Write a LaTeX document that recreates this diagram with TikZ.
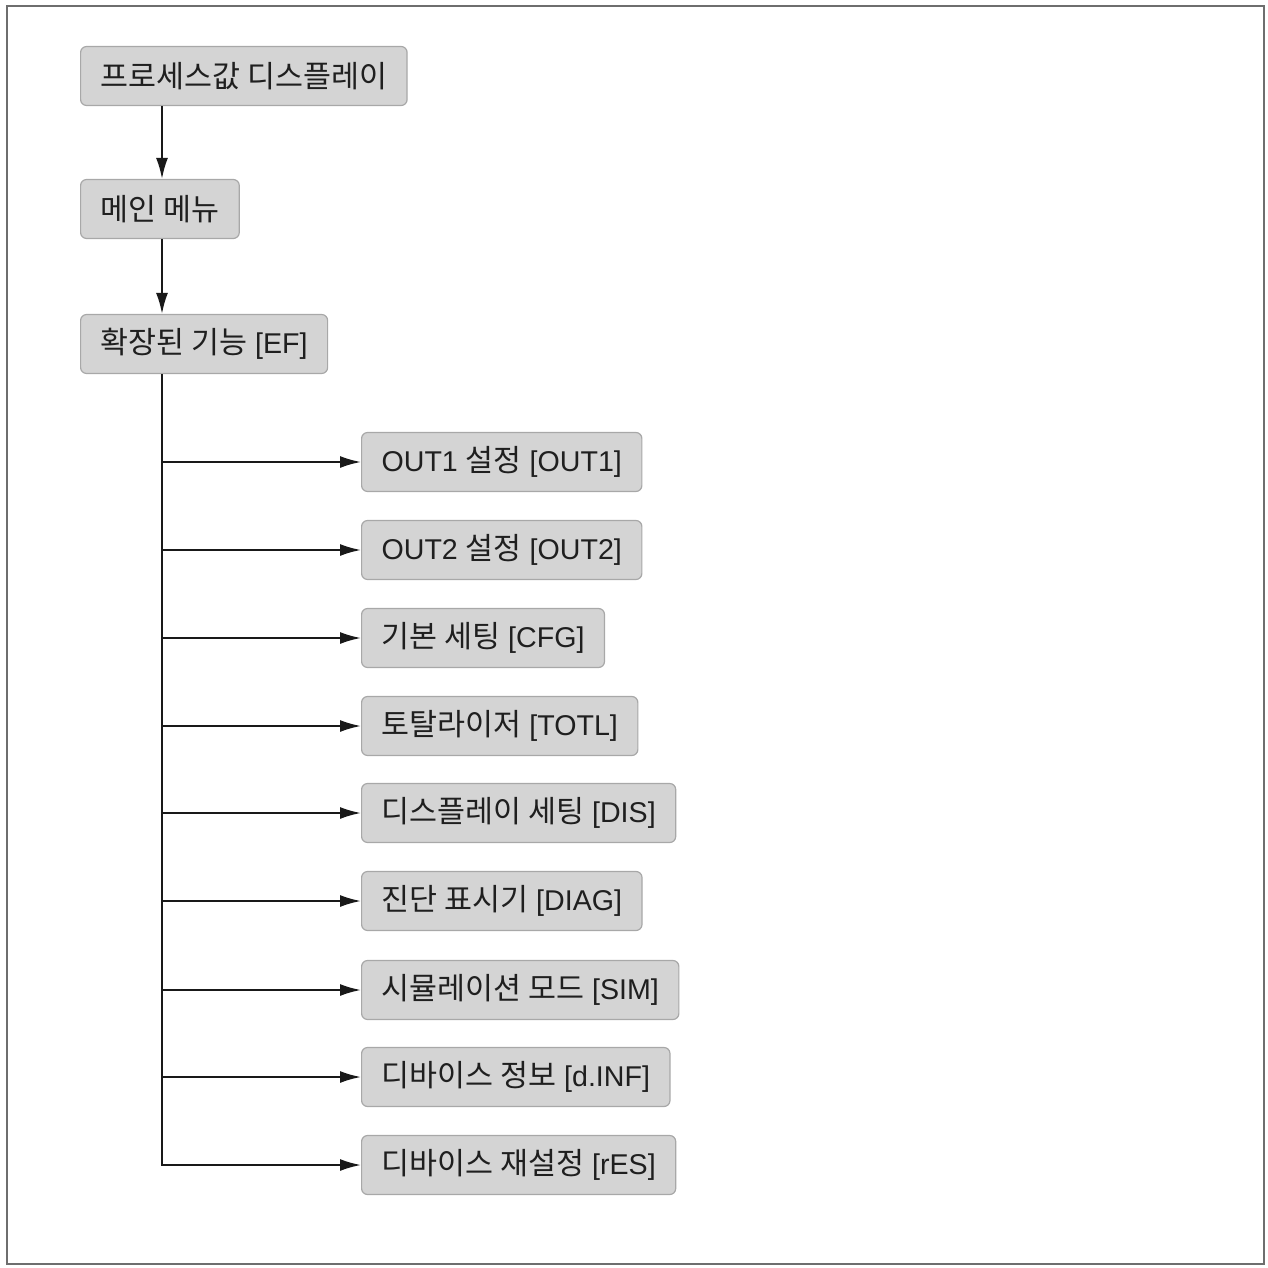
\documentclass[tikz,border=0pt]{standalone}
\usepackage{fontspec}
\setmainfont{Liberation Sans}
\newfontfamily\kr{Noto Sans CJK KR}
\newcommand\K[1]{{\fontsize{30.4}{34}\kr #1}}
\usetikzlibrary{arrows.meta}
\definecolor{boxfill}{HTML}{D4D4D4}
\definecolor{boxline}{HTML}{A8A8A8}
\definecolor{framecol}{HTML}{6E6E6E}
\begin{document}
\begin{tikzpicture}[x=1pt,y=-1pt,
  box/.style={draw=boxline, fill=boxfill, rounded corners=6pt, line width=1.2pt,
    minimum height=59pt, inner xsep=20pt, inner ysep=0pt, anchor=west,
    font=\fontsize{28.6}{34}\selectfont, text=black!88},
  conn/.style={line width=2pt, draw=black!90, -{Latex[length=21pt,width=12pt]}}]
\useasboundingbox (0,0) rectangle (1268,1268);
\draw[framecol, line width=2.5pt] (7,6) rectangle (1264,1264);

\node[box] (pv) at (80,76) {\K{프로세스값 디스플레이}};
\node[box] (mm) at (80,209) {\K{메인 메뉴}};
\node[box] (ef) at (80,344) {\K{확장된 기능} [EF]};

\node[box] (o1) at (361,462) {OUT1 \K{설정} [OUT1]};
\node[box] (o2) at (361,550) {OUT2 \K{설정} [OUT2]};
\node[box] (cfg) at (361,638) {\K{기본 세팅} [CFG]};
\node[box] (totl) at (361,726) {\K{토탈라이저} [TOTL]};
\node[box] (dis) at (361,813) {\K{디스플레이 세팅} [DIS]};
\node[box] (diag) at (361,901) {\K{진단 표시기} [DIAG]};
\node[box] (sim) at (361,990) {\K{시뮬레이션 모드} [SIM]};
\node[box] (dinf) at (361,1077) {\K{디바이스 정보} [d.INF]};
\node[box] (res) at (361,1165) {\K{디바이스 재설정} [rES]};

\coordinate (tx) at (162,0);
\draw[conn] (pv.south -| tx) -- (mm.north -| tx);
\draw[conn] (mm.south -| tx) -- (ef.north -| tx);
\draw[line width=2pt, draw=black!90] (ef.south -| tx) -- (res.west -| tx);
\foreach \n in {o1,o2,cfg,totl,dis,diag,sim,dinf}
  \draw[conn] (\n.west -| tx) -- (\n.west);
\draw[conn] ([xshift=-1pt]res.west -| tx) -- (res.west);
\end{tikzpicture}
\end{document}
